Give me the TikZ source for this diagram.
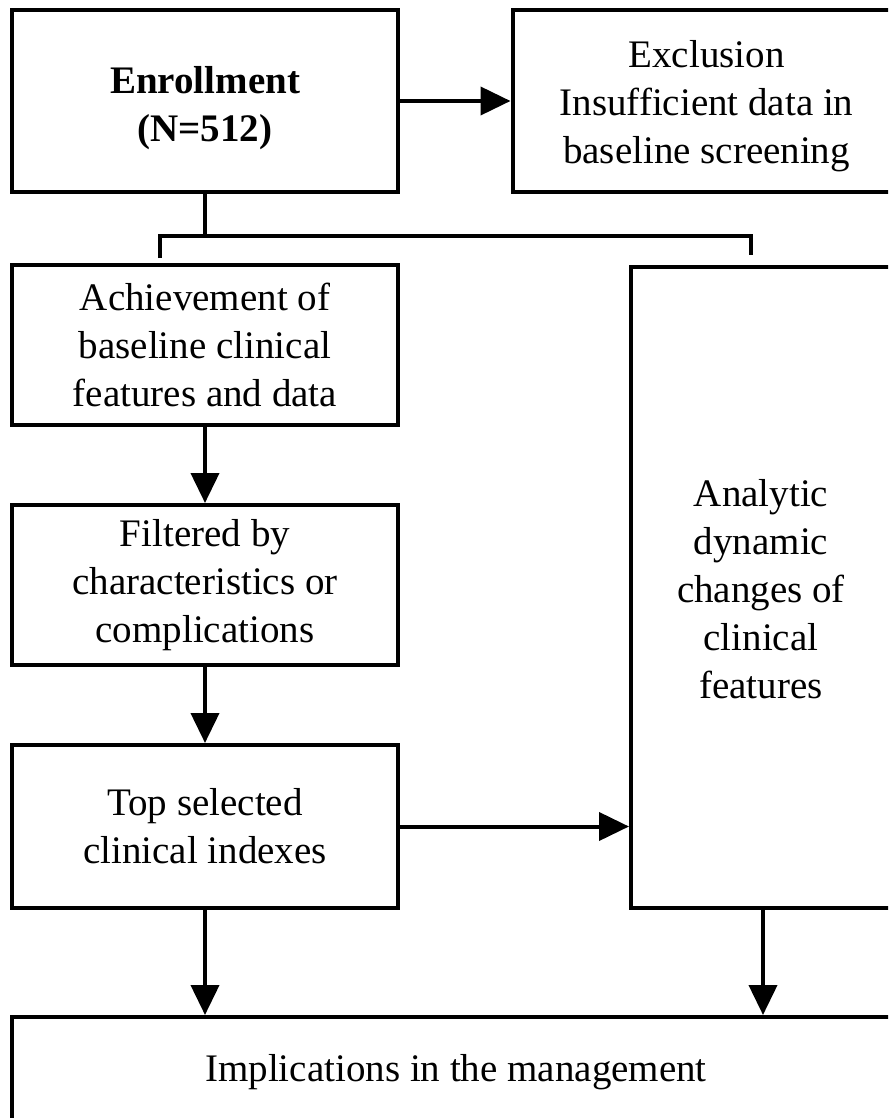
\documentclass[tikz,border=0pt]{standalone}
\usepackage{fontspec}
\setmainfont{Liberation Serif}
\usetikzlibrary{arrows.meta}
\newcommand{\lowerby}[2]{\raisebox{-#1}[\height][\depth]{#2}}
\begin{document}
\begin{tikzpicture}[x=0.5pt,y=-0.5pt,
  box/.style={draw=black, line width=2pt, align=center, inner sep=0pt,
    font=\fontsize{19.5}{24}\selectfont},
  conn/.style={line width=2pt},
  arr/.style={line width=2pt, -{Triangle[length=15pt,width=14pt]}}]
\useasboundingbox (0,0) rectangle (888,1118);
\clip (0,0) rectangle (888,1118);
\fill[white] (0,0) rectangle (888,1118);
\node[box, minimum width=193pt, minimum height=91pt] (enr) at (205,101)
  {\lowerby{3.5pt}{\begin{tabular}{@{}c@{}}\textbf{Enrollment}\\\textbf{(N=512)}\end{tabular}}};
\node[box, minimum width=205pt, minimum height=91pt] (exc) at (717.5,101)
  {\lowerby{2.5pt}{\begin{tabular}{@{}c@{}}Exclusion\\Insufficient data in\\baseline screening\end{tabular}}\hspace{11pt}};
\node[box, minimum width=193pt, minimum height=80pt] (ach) at (205,345)
  {Achievement of\\baseline clinical\\features and data};
\node[box, minimum width=140pt, minimum height=320.5pt] (ana) at (771,587.5)
  {\lowerby{2.5pt}{\begin{tabular}{@{}c@{}}Analytic\\dynamic\\changes of\\clinical\\features\end{tabular}}\hspace{10pt}};
\node[box, minimum width=193pt, minimum height=80pt] (fil) at (205,585)
  {Filtered by\\characteristics or\\complications};
\node[box, minimum width=450pt, minimum height=55pt] (imp) at (462,1072)
  {Implications in the management\hspace{6pt}};
\node[box, minimum width=193pt, minimum height=81.5pt] (top) at (205,826.5)
  {Top selected\\clinical indexes};
% connectors
\coordinate (jn) at (205,236);
\coordinate (jl) at (160,236);
\coordinate (jr) at (751,236);
\coordinate (dl) at (160,258);
\coordinate (dr) at (751,255);
\draw[conn] (enr.south) -- (jn);
\draw[conn] (dl) -- (jl) -- (jr) -- (dr);
\draw[arr] (enr.east) -- (enr.east -| exc.west);
\draw[arr] (ach.south) -- (fil.north);
\draw[arr] (fil.south) -- (top.north);
\draw[arr] (top.east) -- (top.east -| ana.west);
\draw[arr] (top.south) -- (top.south |- imp.north);
\coordinate (as) at (763,908);
\draw[arr] (as) -- (as |- imp.north);
\end{tikzpicture}
\end{document}
